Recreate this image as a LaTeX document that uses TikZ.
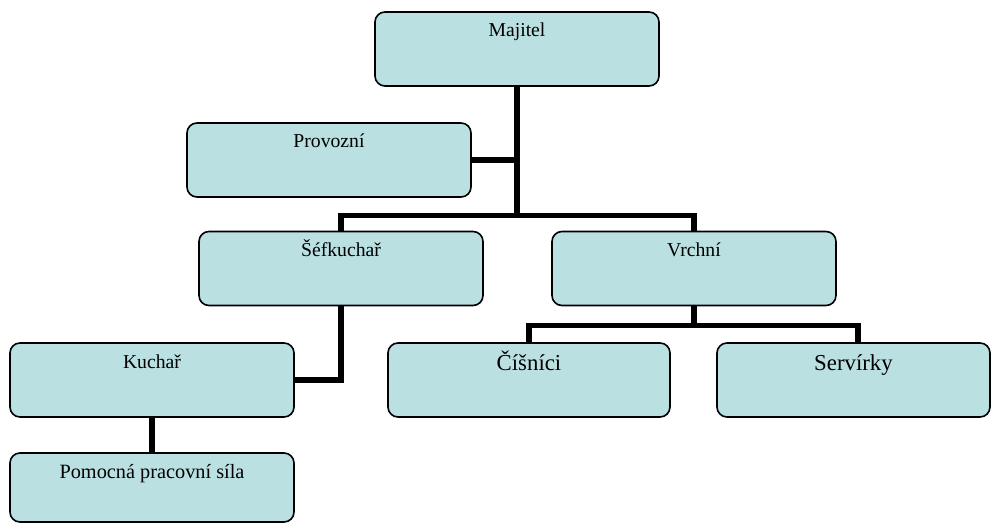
\documentclass[tikz,border=0pt]{standalone}
\usepackage{fontspec}
\setmainfont{Liberation Serif}
\definecolor{boxfill}{RGB}{186,224,226}
\begin{document}
\begin{tikzpicture}[x=1pt,y=-1pt,
  box/.style={draw=black, line width=1.6pt, fill=boxfill, rounded corners=10pt,
    inner xsep=0pt, inner ysep=0pt, minimum width=284pt,
    text height=25pt, text depth=49pt,
    font=\fontsize{19.7}{24}\selectfont},
  bigbox/.style={box, text height=27pt, text depth=47pt,
    font=\fontsize{22.8}{27}\selectfont},
  conn/.style={draw=black, line width=5.6pt, line join=miter, line cap=butt}]
\useasboundingbox (0,0) rectangle (991,524);

\coordinate (j1) at (517,215.5);
\coordinate (j2) at (694,325.5);

\node[box] (maj) at (517,49) {Majitel};
\node[box] (prov) at (329,160) {Provozní};
\node[box] (sef) at (341,268.5) {Šéfkuchař};
\node[box] (vr) at (694,268.5) {Vrchní};
\node[box] (kuch) at (152,380) {Kuchař};
\node[box, text depth=44pt, font=\fontsize{20.3}{24}\selectfont] (pom) at (152,487.5) {Pomocná pracovní síla};
\node[bigbox, minimum width=282pt] (cis) at (529,380) {Číšníci};
\node[bigbox, minimum width=273pt] (serv) at (853.5,380) {Servírky};

\draw[conn] (maj.south) -- (j1);
\draw[conn] (prov.east) -- (prov.east -| maj.south);
\draw[conn] (sef.north) -- (sef.north |- j1) -- (vr.north |- j1) -- (vr.north);
\draw[conn] (vr.south) -- (j2);
\draw[conn] (cis.north) -- (cis.north |- j2) -- ([xshift=4.5pt]serv.north |- j2) -- ([xshift=4.5pt]serv.north);
\draw[conn] (sef.south) -- (sef.south |- kuch.east) -- (kuch.east);
\draw[conn] (kuch.south) -- (pom.north);
\end{tikzpicture}
\end{document}
